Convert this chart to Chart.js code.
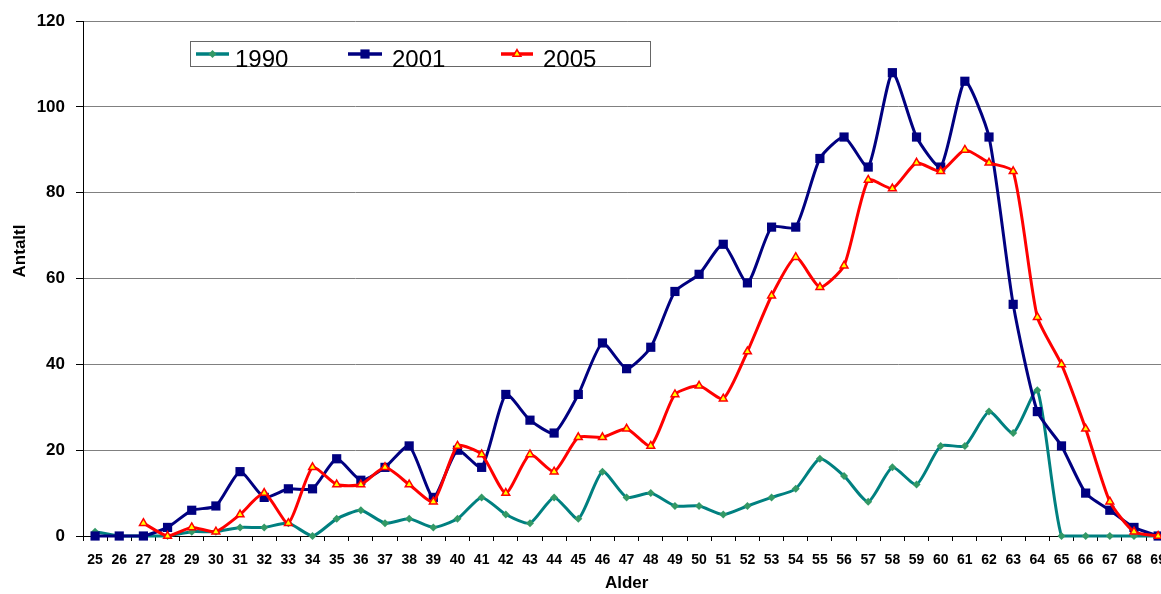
<!DOCTYPE html>
<html>
<head>
<meta charset="utf-8">
<script src="https://cdn.jsdelivr.net/npm/chart.js@4/dist/chart.umd.min.js"></script>
<style>
  html, body { margin: 0; padding: 0; background: #fff; overflow: hidden; }
  #wrap { width: 1161px; height: 594px; overflow: hidden; }
</style>
</head>
<body>
<div id="wrap"><canvas id="chart" width="1177" height="594"></canvas></div>
<script>
const ages = ['25', '26', '27', '28', '29', '30', '31', '32', '33', '34', '35', '36', '37', '38', '39',
  '40', '41', '42', '43', '44', '45', '46', '47', '48', '49', '50', '51', '52', '53', '54',
  '55', '56', '57', '58', '59', '60', '61', '62', '63', '64', '65', '66', '67', '68', '69'];

const values1990 = [1, 0, 0, 0, 1, 1, 2, 2, 3, 0, 4, 6, 3, 4, 2,
  4, 9, 5, 3, 9, 4, 15, 9, 10, 7, 7, 5, 7, 9, 11,
  18, 14, 8, 16, 12, 21, 21, 29, 24, 34, 0, 0, 0, 0, 0];

const values2001 = [0, 0, 0, 2, 6, 7, 15, 9, 11, 11, 18, 13, 16, 21, 9,
  20, 16, 33, 27, 24, 33, 45, 39, 44, 57, 61, 68, 59, 72, 72,
  88, 93, 86, 108, 93, 86, 106, 93, 54, 29, 21, 10, 6, 2, 0];

const values2005 = [null, null, 3, 0, 2, 1, 5, 10, 3, 16, 12, 12, 16, 12, 8,
  21, 19, 10, 19, 15, 23, 23, 25, 21, 33, 35, 32, 43, 56, 65,
  58, 63, 83, 81, 87, 85, 90, 87, 85, 51, 40, 25, 8, 1, 0];

const seriesNames = ['1990', '2001', '2005'];
const xTitle = 'Alder';
const yTitle = 'Antaltl';

const FONT = '"Liberation Sans", Arial, sans-serif';

function drawMarker(ctx, ds, x, y) {
  if (Chart.helpers && Chart.helpers.drawPoint) {
    ctx.fillStyle = ds.pointBackgroundColor;
    ctx.strokeStyle = ds.pointBorderColor;
    ctx.lineWidth = ds.pointBorderWidth;
    Chart.helpers.drawPoint(ctx, {
      pointStyle: ds.pointStyle, radius: ds.pointRadius,
      borderWidth: ds.pointBorderWidth, rotation: 0,
    }, x, y);
  }
}

// y title and the boxed legend, placed like the original
const extras = {
  id: 'extras',
  afterDraw(chart) {
    const ctx = chart.ctx;
    ctx.save();
    ctx.translate(20, 251);
    ctx.rotate(-Math.PI / 2);
    ctx.font = 'bold 17px ' + FONT;
    ctx.fillStyle = '#000';
    ctx.textAlign = 'center';
    ctx.textBaseline = 'middle';
    ctx.fillText(yTitle, 0, 0);
    ctx.restore();

    ctx.save();
    ctx.fillStyle = '#fff';
    ctx.fillRect(190, 41, 460, 26);
    ctx.strokeStyle = '#666';
    ctx.lineWidth = 1;
    ctx.strokeRect(190.5, 41.5, 460, 25);

    const slots = [{ x0: 196, x1: 229, tx: 235 }, { x0: 348, x1: 382, tx: 392 }, { x0: 501, x1: 533, tx: 543 }];
    chart.data.datasets.forEach((ds, i) => {
      const s = slots[i];
      ctx.strokeStyle = ds.borderColor;
      ctx.lineWidth = 3.5;
      ctx.beginPath();
      ctx.moveTo(s.x0, 54);
      ctx.lineTo(s.x1, 54);
      ctx.stroke();
      drawMarker(ctx, ds, (s.x0 + s.x1) / 2, 54);
      ctx.fillStyle = '#000';
      ctx.font = '24px ' + FONT;
      ctx.textAlign = 'left';
      ctx.textBaseline = 'alphabetic';
      ctx.fillText(ds.label, s.tx, 67);
    });
    ctx.restore();
  },
};

new Chart(document.getElementById('chart'), {
  type: 'line',
  data: {
    labels: ages,
    datasets: [
      {
        label: seriesNames[0], data: values1990, order: 2,
        borderColor: '#008080', borderWidth: 3, tension: 0.2, clip: false,
        pointStyle: 'rectRot', pointRadius: 4, pointBackgroundColor: '#339966',
        pointBorderColor: '#339966', pointBorderWidth: 0,
      },
      {
        label: seriesNames[1], data: values2001, order: 1,
        borderColor: '#000080', borderWidth: 3, tension: 0.2, clip: false,
        pointStyle: 'rect', pointRadius: 6.5, pointBackgroundColor: '#000080',
        pointBorderColor: '#000080', pointBorderWidth: 0,
      },
      {
        label: seriesNames[2], data: values2005, order: 0,
        borderColor: '#ff0000', borderWidth: 3, tension: 0.2, clip: false,
        pointStyle: 'triangle', pointRadius: 4.5, pointBackgroundColor: '#ffff00',
        pointBorderColor: '#ff0000', pointBorderWidth: 1.5,
      },
    ],
  },
  options: {
    responsive: false,
    animation: false,
    devicePixelRatio: 1,
    layout: { padding: { top: 20, right: 1, left: 0, bottom: 0 } },
    plugins: {
      legend: { display: false },
      tooltip: { enabled: false },
    },
    scales: {
      x: {
        type: 'category',
        offset: true,
        afterFit: (scale) => { scale.height = 58; },
        grid: { offset: true, drawOnChartArea: false, tickLength: 5, tickColor: '#000' },
        border: { color: '#000', width: 1 },
        ticks: {
          color: '#000', font: { family: FONT, size: 14, weight: 'bold' },
          maxRotation: 0, autoSkip: false, padding: 11,
        },
        title: {
          display: true, text: xTitle, color: '#000',
          font: { family: FONT, size: 17, weight: 'bold' }, padding: { top: 0, bottom: 0 },
        },
      },
      y: {
        min: 0,
        max: 120,
        afterFit: (scale) => { scale.width = 83; },
        grid: { color: '#808080', tickLength: 7, tickColor: '#000' },
        border: { color: '#000', width: 1 },
        ticks: {
          stepSize: 20, color: '#000', padding: 11,
          font: { family: FONT, size: 17, weight: 'bold' },
        },
      },
    },
  },
  plugins: [extras],
});
</script>
</body>
</html>
